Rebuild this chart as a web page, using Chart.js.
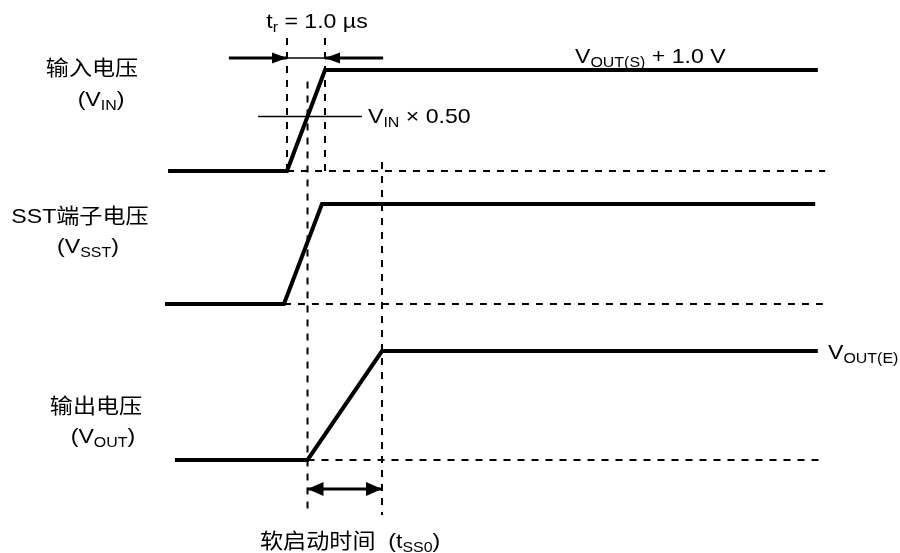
<!DOCTYPE html>
<html>
<head>
<meta charset="utf-8">
<script src="https://cdn.jsdelivr.net/npm/chart.js@4"></script>
<style>
  body { margin: 0; background: #fff; }
  #wrap { width: 900px; height: 553px; }
</style>
</head>
<body>
<div id="wrap"><canvas id="timing" width="900" height="553"></canvas></div>
<script>
// time axis in µs, t = 0 where VIN starts to rise
const vinTime = [-3.13, 0, 1, 13.97];
const vinLevel = [0, 0, 1, 1];
const sstTime = [-3.21, -0.08, 0.92, 13.9];
const sstLevel = [0, 0, 1, 1];
const voutTime = [-2.95, 0.54, 2.5, 13.97];
const voutLevel = [0, 0, 1, 1];

// low level and swing of each trace on the shared y scale (VIN, VSST, VOUT)
const traceBase = [38.2, 24.9, 9.3];
const traceSwing = [10.1, 10.0, 10.9];

const thresholdLevel = 0.54;      // VIN x 0.50 marker
const thresholdSpan = [-0.76, 1.97];
const riseWindow = [0, 1];        // tr = 1.0 µs
const softStart = [0.54, 2.5];    // tSS0
const dashEnd = 14.16;

const trArrowY = 49.5;
const tssArrowY = 6.4;

function trace(times, levels, i) {
    return times.map((t, k) => ({ x: t, y: traceBase[i] + traceSwing[i] * levels[k] }));
}
function seg(x0, y0, x1, y1) {
    return [{ x: x0, y: y0 }, { x: x1, y: y1 }];
}

const solid = { borderColor: '#000', pointRadius: 0, tension: 0, fill: false, borderJoinStyle: 'miter', borderCapStyle: 'butt' };
const dashed = Object.assign({}, solid, { borderWidth: 2, borderDash: [7, 7] });
const thrY = traceBase[0] + traceSwing[0] * thresholdLevel;

const datasets = [
    // guide lines
    Object.assign({ data: seg(vinTime[1], traceBase[0], dashEnd, traceBase[0]) }, dashed),
    Object.assign({ data: seg(sstTime[1], traceBase[1], dashEnd, traceBase[1]) }, dashed),
    Object.assign({ data: seg(voutTime[1], traceBase[2], dashEnd, traceBase[2]) }, dashed),
    Object.assign({ data: seg(riseWindow[0], 51.5, riseWindow[0], traceBase[0]) }, dashed),
    Object.assign({ data: seg(riseWindow[1], 51.5, riseWindow[1], traceBase[0]) }, dashed),
    Object.assign({ data: seg(softStart[0], thrY + 3.5, softStart[0], 3.8) }, dashed),
    Object.assign({ data: seg(softStart[1], 39.1, softStart[1], 3.8) }, dashed),
    Object.assign({ data: seg(thresholdSpan[0], thrY, thresholdSpan[1], thrY) }, solid, { borderWidth: 1.5 }),
    // tr arrows
    Object.assign({ data: seg(riseWindow[0], trArrowY, riseWindow[1], trArrowY) }, solid, { borderWidth: 1.5 }),
    Object.assign({ data: seg(-1.53, trArrowY, riseWindow[0], trArrowY), arrowHeads: ['end'], headSize: [15, 5.5] }, solid, { borderWidth: 3 }),
    Object.assign({ data: seg(2.53, trArrowY, riseWindow[1], trArrowY), arrowHeads: ['end'], headSize: [15, 5.5] }, solid, { borderWidth: 3 }),
    // tSS0 arrow
    Object.assign({ data: seg(softStart[0], tssArrowY, softStart[1], tssArrowY), arrowHeads: ['start', 'end'], headSize: [16, 7] }, solid, { borderWidth: 3 }),
    // waveforms
    Object.assign({ data: trace(vinTime, vinLevel, 0) }, solid, { borderWidth: 4 }),
    Object.assign({ data: trace(sstTime, sstLevel, 1) }, solid, { borderWidth: 4 }),
    Object.assign({ data: trace(voutTime, voutLevel, 2) }, solid, { borderWidth: 4 })
];

const FONT = '"Liberation Sans", Arial, "Noto Sans CJK SC", sans-serif';
const STRETCH = 1.1;
const labels = [
    { x: 317, y: 28, align: 'center', parts: [['t'], ['r', 1], [' = 1.0 \u00b5s']] },
    { x: 368, y: 123, align: 'left', parts: [['V'], ['IN', 1], [' \u00d7 0.50']] },
    { x: 575, y: 63, align: 'left', parts: [['V'], ['OUT(S)', 1], [' + 1.0 V']] },
    { x: 828, y: 359, align: 'left', parts: [['V'], ['OUT(E)', 1]] },
    { x: 92, y: 75, align: 'center', parts: [['输入电压']] },
    { x: 101, y: 106, align: 'center', parts: [['(V'], ['IN', 1], [')']] },
    { x: 80, y: 223, align: 'center', parts: [['SST端子电压']] },
    { x: 88, y: 253, align: 'center', parts: [['(V'], ['SST', 1], [')']] },
    { x: 96, y: 413, align: 'center', parts: [['输出电压']] },
    { x: 103, y: 443, align: 'center', parts: [['(V'], ['OUT', 1], [')']] },
    { x: 260, y: 548, align: 'left', parts: [['软启动时间  (t'], ['SS0', 1], [')']] }
];

const arrowPlugin = {
    id: 'arrows',
    afterDatasetsDraw(chart) {
        const ctx = chart.ctx;
        chart.data.datasets.forEach((ds, i) => {
            if (!ds.arrowHeads) return;
            const pts = chart.getDatasetMeta(i).data;
            const len = ds.headSize[0], half = ds.headSize[1];
            ds.arrowHeads.forEach(which => {
                const tip = which === 'end' ? pts[pts.length - 1] : pts[0];
                const from = which === 'end' ? pts[pts.length - 2] : pts[1];
                const a = Math.atan2(tip.y - from.y, tip.x - from.x);
                ctx.save();
                ctx.fillStyle = '#000';
                ctx.beginPath();
                ctx.moveTo(tip.x, tip.y);
                ctx.lineTo(tip.x - len * Math.cos(a) - half * Math.sin(a), tip.y - len * Math.sin(a) + half * Math.cos(a));
                ctx.lineTo(tip.x - len * Math.cos(a) + half * Math.sin(a), tip.y - len * Math.sin(a) - half * Math.cos(a));
                ctx.closePath();
                ctx.fill();
                ctx.restore();
            });
        });
    }
};

const textPlugin = {
    id: 'texts',
    afterDraw(chart) {
        const ctx = chart.ctx;
        const fontOf = p => (p[1] ? '14.5px ' : '21px ') + FONT;
        labels.forEach(l => {
            ctx.save();
            ctx.fillStyle = '#000';
            ctx.textBaseline = 'alphabetic';
            ctx.textAlign = 'left';
            let w = 0;
            l.parts.forEach(p => { ctx.font = fontOf(p); w += ctx.measureText(p[0]).width; });
            const left = l.align === 'center' ? l.x - w * STRETCH / 2 : l.x;
            ctx.translate(left, l.y);
            ctx.scale(STRETCH, 1);
            let x = 0;
            l.parts.forEach(p => {
                ctx.font = fontOf(p);
                ctx.fillText(p[0], x, p[1] ? 4 : 0);
                x += ctx.measureText(p[0]).width;
            });
            ctx.restore();
        });
    }
};

new Chart(document.getElementById('timing'), {
    type: 'line',
    data: { datasets: datasets },
    options: {
        responsive: false,
        animation: false,
        devicePixelRatio: 1,
        layout: { padding: 0 },
        scales: {
            x: { type: 'linear', min: -287 / 38, max: 613 / 38, display: false },
            y: { type: 'linear', min: 0, max: 55.3, display: false }
        },
        plugins: { legend: { display: false }, tooltip: { enabled: false } }
    },
    plugins: [arrowPlugin, textPlugin]
});
</script>
</body>
</html>
